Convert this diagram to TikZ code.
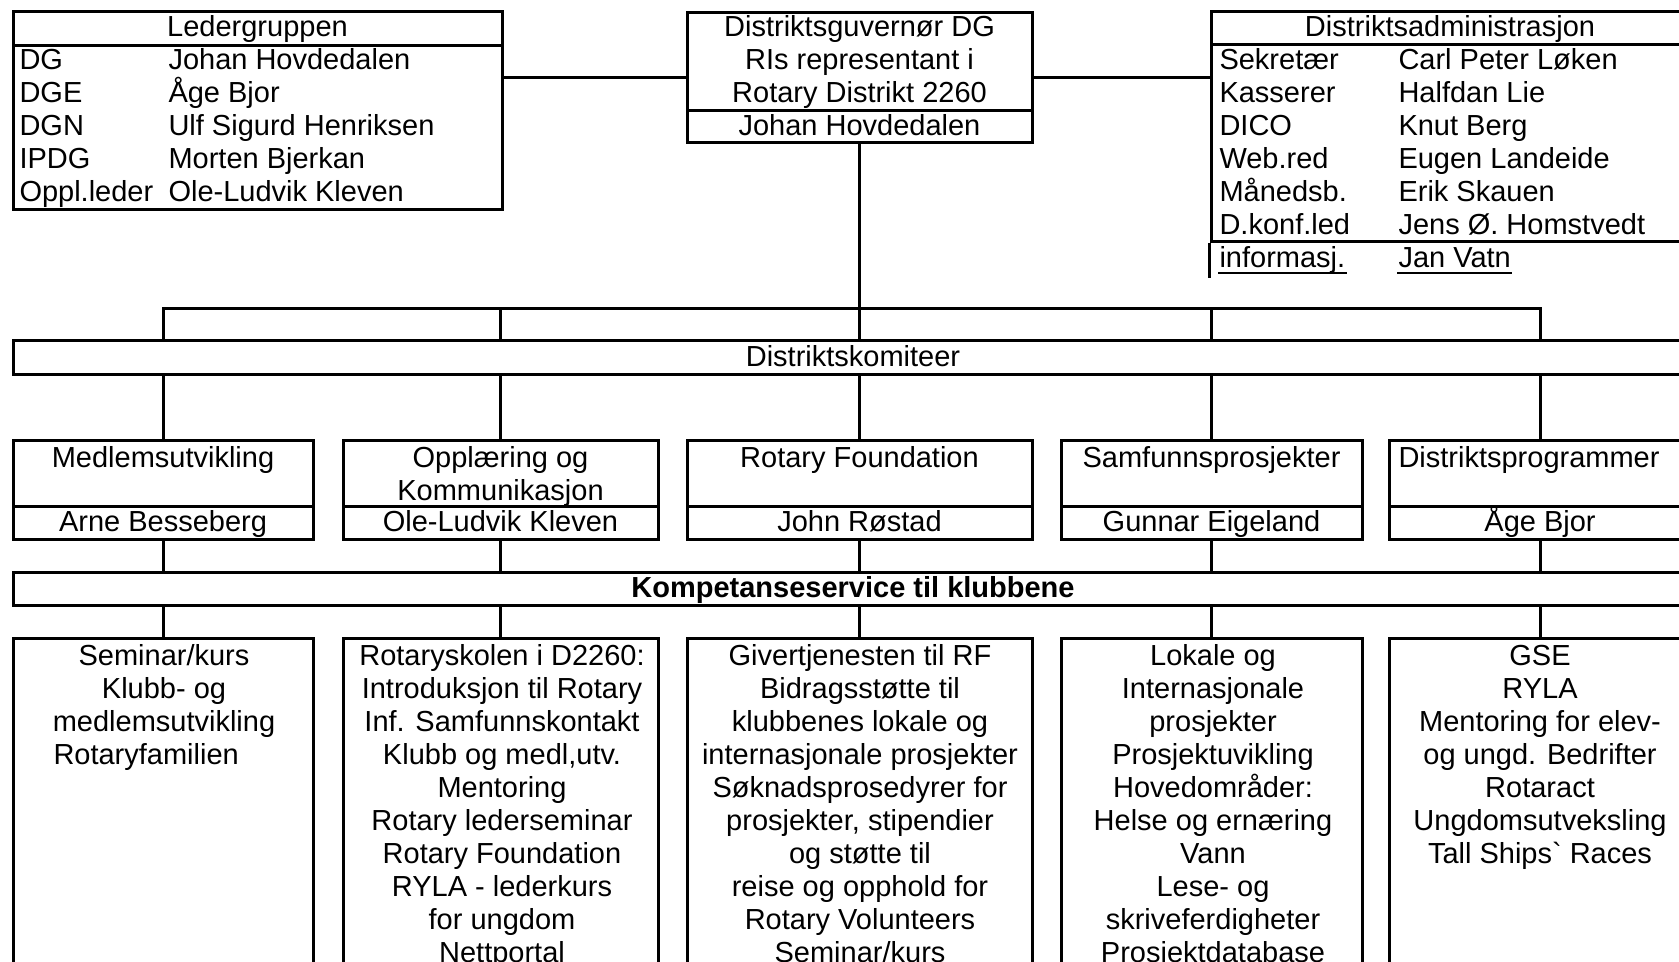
\documentclass[tikz,border=0pt]{standalone}
\usepackage{fontspec}
\setmainfont{Liberation Sans}[Ligatures=TeXOff]
\usetikzlibrary{fit}

\begin{document}
\begin{tikzpicture}[x=0.5pt, y=-0.5pt, line width=1.5pt,
    box/.style={draw, inner sep=0pt},
    txt/.style={inner sep=0pt, font=\fontsize{14.5}{16.5}\selectfont},
    uline/.style={line width=0.7pt}]
    \useasboundingbox (0,0) rectangle (1679,962);
    \clip (0,0) rectangle (1679,962);

    % top row
    \node[box, fit={(13,12) (502,210)}] (lg) {};
    \node[box, fit={(687,13) (1032,143)}] (dg) {};
    \node[box, fit={(1211,12) (1689,242)}] (da) {};
    \draw (13,45.7) -- (502,45.7);
    \draw (687,111) -- (1032,111);
    \draw (1211,44.5) -- (1689,44.5);
    \draw (da.south west) -- ++(0,35);

    \node[txt, anchor=base] (lghead) at (257.5,37) {Ledergruppen};
    \foreach \role/\who [count=\i] in {DG/Johan Hovdedalen, DGE/Åge Bjor,
        DGN/Ulf Sigurd Henriksen, IPDG/Morten Bjerkan, Oppl.leder/Ole-Ludvik Kleven} {
        \node[txt, anchor=base west] (lgrole\i) at (18,37+33*\i) {\role};
        \node[txt, anchor=base west] (lgname\i) at (167,37+33*\i) {\who};
    }

    \node[txt, anchor=base] (dgl1) at (859.5,37) {Distriktsguvernør DG};
    \node[txt, anchor=base] (dgl2) at (859.5,70) {RIs representant i};
    \node[txt, anchor=base] (dgl3) at (859.5,103) {Rotary Distrikt 2260};
    \node[txt, anchor=base] (dgname) at (859.5,136) {Johan Hovdedalen};

    \node[txt, anchor=base] (dahead) at (1450,37) {Distriktsadministrasjon};
    \foreach \role/\who [count=\i] in {Sekretær/Carl Peter Løken, Kasserer/Halfdan Lie,
        DICO/Knut Berg, Web.red/Eugen Landeide, Månedsb./Erik Skauen,
        D.konf.led/Jens Ø. Homstvedt} {
        \node[txt, anchor=base west] (darole\i) at (1218,37+33*\i) {\role};
        \node[txt, anchor=base west] (daname\i) at (1397,37+33*\i) {\who};
    }
    \node[txt, anchor=base west] (dainf) at (1218,268) {informasj.};
    \node[txt, anchor=base west] (davatn) at (1397,268) {Jan Vatn};
    \draw[uline] ([yshift=-2.5pt]dainf.base west) -- ([yshift=-2.5pt]dainf.base east);
    \draw[uline] ([yshift=-2.5pt]davatn.base west) -- ([yshift=-2.5pt]davatn.base east);

    \draw (dg.west) -- (dg.west -| lg.east);
    \draw (dg.east) -- (dg.east -| da.west);

    % wide bars
    \node[box, fit={(13,341) (1693,374)}] (komite) {};
    \node[txt, anchor=base] (komitetxt) at (853,366.5) {Distriktskomiteer};
    \node[box, fit={(13,572.3) (1693,605)}] (komp) {};
    \node[txt, anchor=base, font=\fontsize{14.5}{16.5}\selectfont\bfseries] (komptxt)
        at (853,597.5) {Kompetanseservice til klubbene};

    % committees and services
    \coordinate (bus) at (863,308.3);
    \foreach \l/\r/\who [count=\i] in {13/313/Arne Besseberg, 343/658/Ole-Ludvik Kleven,
        687/1032/John Røstad, 1061/1362/Gunnar Eigeland, 1389/1691/Åge Bjor} {
        \node[box, fit={(\l,440.7) (\r,539)}] (com\i) {};
        \draw (\l,506.7) -- (\r,506.7);
        \node[txt, anchor=base] (comname\i) at ({(\l+\r)/2},531) {\who};
        \node[box, fit={(\l,638.3) (\r,1000)}] (serv\i) {};
        \draw (com\i.north |- bus) -- (com\i.north |- komite.north);
        \draw (com\i.north |- komite.south) -- (com\i.north);
        \draw (com\i.south) -- (com\i.south |- komp.north);
        \draw (serv\i.north |- komp.south) -- (serv\i.north);
    }
    \draw[line cap=rect] (com1.north |- bus) -- (com5.north |- bus);
    \draw (dg.south) -- (dg.south |- bus);

    \node[txt, anchor=base] (comtitle1) at (163,467) {Medlemsutvikling};
    \node[txt, anchor=base] (comtitle2) at (500.5,467) {Opplæring og};
    \node[txt, anchor=base] (comtitle2b) at (500.5,500) {Kommunikasjon};
    \node[txt, anchor=base] (comtitle3) at (859.5,467) {Rotary Foundation};
    \node[txt, anchor=base] (comtitle4) at (1211.5,467) {Samfunnsprosjekter};
    \node[txt, anchor=base west] (comtitle5) at (1397,467) {Distriktsprogrammer};

    \foreach \entry [count=\j] in {Seminar/kurs, Klubb- og, medlemsutvikling}
        \node[txt, anchor=base] (s1-\j) at (164,632+33*\j) {\entry};
    \node[txt, anchor=base west] (s1-4) at (52,764) {Rotaryfamilien};
    \foreach \entry [count=\j] in {Rotaryskolen i D2260:, Introduksjon til Rotary,
        Inf. Samfunnskontakt, {Klubb og medl,utv.}, Mentoring, Rotary lederseminar,
        Rotary Foundation, RYLA - lederkurs, for ungdom, Nettportal}
        \node[txt, anchor=base] (s2-\j) at (502,632+33*\j) {\entry};
    \foreach \entry [count=\j] in {Givertjenesten til RF, Bidragsstøtte til,
        klubbenes lokale og, internasjonale prosjekter, Søknadsprosedyrer for,
        {prosjekter, stipendier}, og støtte til, reise og opphold for,
        Rotary Volunteers, Seminar/kurs}
        \node[txt, anchor=base] (s3-\j) at (860,632+33*\j) {\entry};
    \foreach \entry [count=\j] in {Lokale og, Internasjonale, prosjekter,
        Prosjektuvikling, Hovedområder:, Helse og ernæring, Vann, Lese- og,
        skriveferdigheter, Prosjektdatabase}
        \node[txt, anchor=base] (s4-\j) at (1213,632+33*\j) {\entry};
    \foreach \entry [count=\j] in {GSE, RYLA, Mentoring for elev-, og ungd. Bedrifter,
        Rotaract, Ungdomsutveksling, Tall Ships` Races}
        \node[txt, anchor=base] (s5-\j) at (1540,632+33*\j) {\entry};
\end{tikzpicture}
\end{document}
